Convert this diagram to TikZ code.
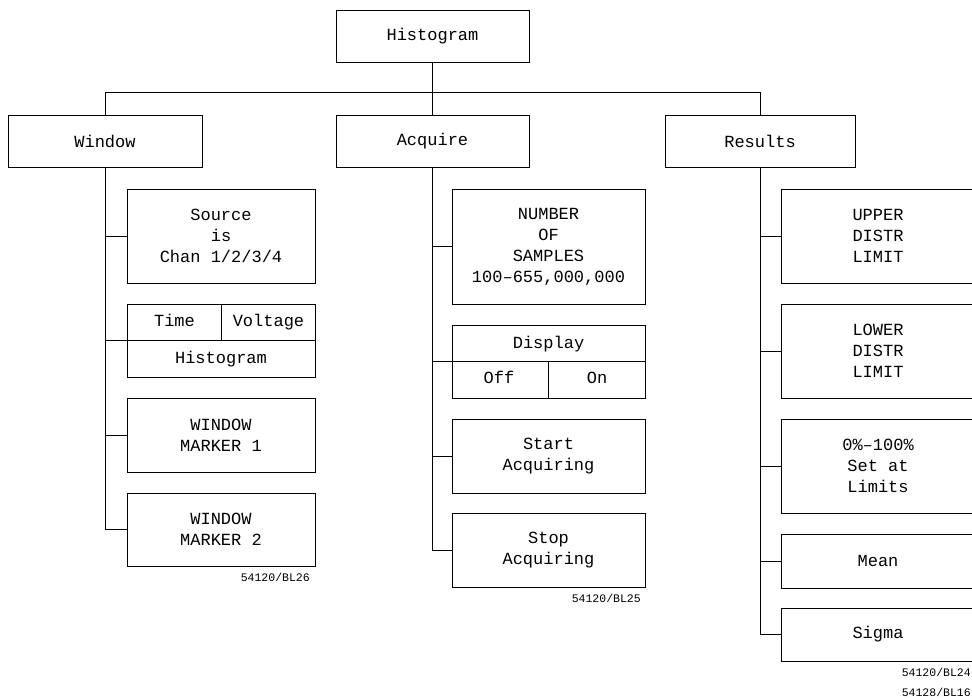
\documentclass[tikz,border=0pt]{standalone}
\usepackage{fontspec}
\newfontfamily\plotfont{Liberation Mono}
\usetikzlibrary{positioning}

\begin{document}
\begin{tikzpicture}[x=1pt, y=-1pt,
  menubox/.style={rectangle, draw, line width=0.8pt, inner sep=0pt,
                  minimum width=193pt, minimum height=52pt,
                  font=\plotfont\fontsize{17}{21}\selectfont, align=center},
  keytext/.style={font=\plotfont\fontsize{17}{21}\selectfont, inner sep=0pt,
                  text height=12pt, text depth=3.5pt},
  tree/.style={line width=0.8pt},
  figref/.style={font=\plotfont\fontsize{11.5}{13}\selectfont, anchor=east, inner sep=0pt}
]
\useasboundingbox (0,0) rectangle (972,700);

% top level
\node[menubox] (hist) at (432.5,36) {Histogram};
\node[menubox, minimum width=194pt] (win) at (105,141) {Window};
\node[menubox] (acq) at (432.5,141) {Acquire};
\node[menubox, minimum width=190pt] (res) at (760,141) {Results};

\draw[tree] (hist.south) -- (acq.north);
\draw[tree] (win.north) -- ++(0,-22) -| (res.north);

% Window column
\node[menubox, minimum width=188pt, minimum height=94pt] (src) at (221,236)
  {Source\\is\\Chan 1/2/3/4};
\node[menubox, minimum width=188pt, minimum height=73pt] (tv) at (221,340.5) {};
\draw[tree] (tv.west) -- (tv.east);
\draw[tree] (tv.north) -- (tv.center);
\node[keytext] (time) at (174.5,322.5) {Time};
\node[keytext] (volt) at (268.5,322.5) {Voltage};
\node[keytext] (tvhist) at (221,359) {Histogram};
\node[menubox, minimum width=188pt, minimum height=74pt] (wm1) at (221,435)
  {WINDOW\\MARKER 1};
\node[menubox, minimum width=188pt, minimum height=73pt] (wm2) at (221,529.5)
  {WINDOW\\MARKER 2};

\draw[tree] (win.south) |- (wm2.west);
\foreach \k in {src,tv,wm1}
  \draw[tree] (win.south |- \k.west) -- (\k.west);

\node[figref] (ref26) at (310,577) {54120/BL26};

% Acquire column
\node[menubox, minimum height=115pt] (num) at (548.5,246.5)
  {NUMBER\\OF\\SAMPLES\\100–655,000,000};
\node[menubox, minimum height=73pt] (disp) at (548.5,361.5) {};
\draw[tree] (disp.west) -- (disp.east);
\draw[tree] (disp.south) -- (disp.center);
\node[keytext] (dtext) at (548.5,344) {Display};
\node[keytext] (doff) at (499,379.5) {Off};
\node[keytext] (don) at (597,379.5) {On};
\node[menubox, minimum height=74pt] (start) at (548.5,456) {Start\\Acquiring};
\node[menubox, minimum height=74pt] (stop) at (548.5,550) {Stop\\Acquiring};

\draw[tree] (acq.south) |- (stop.west);
\foreach \k in {num,disp,start}
  \draw[tree] (acq.south |- \k.west) -- (\k.west);

\node[figref] (ref25) at (641,598) {54120/BL25};

% Results column
\node[menubox, minimum width=194pt, minimum height=94pt] (upper) at (878,236)
  {UPPER\\DISTR\\LIMIT};
\node[menubox, minimum width=194pt, minimum height=94pt] (lower) at (878,351)
  {LOWER\\DISTR\\LIMIT};
\node[menubox, minimum width=194pt, minimum height=94pt] (pct) at (878,466)
  {0\%–100\%\\Set at\\Limits};
\node[menubox, minimum width=194pt, minimum height=54pt] (mean) at (878,561) {Mean};
\node[menubox, minimum width=194pt, minimum height=53pt] (sigma) at (878,634.5) {Sigma};

\draw[tree] (res.south) |- (sigma.west);
\foreach \k in {upper,lower,pct,mean}
  \draw[tree] (res.south |- \k.west) -- (\k.west);

\node[figref] (ref24) at (971,672) {54120/BL24};
\node[figref] (ref16) at (971,692) {54128/BL16};
\end{tikzpicture}
\end{document}
